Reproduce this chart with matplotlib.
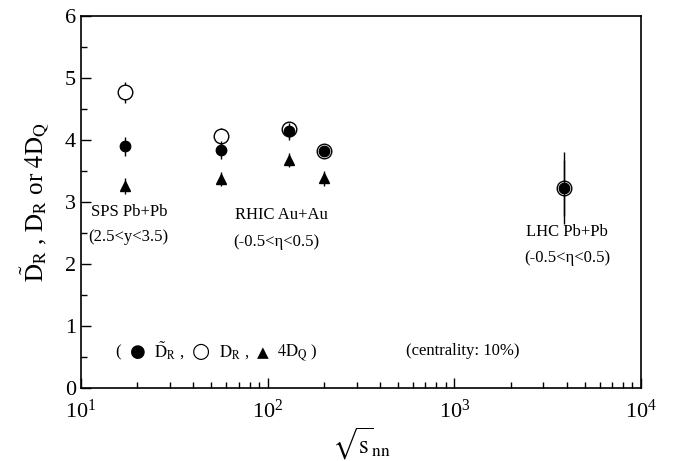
import numpy as np
import matplotlib
matplotlib.use("Agg")
import matplotlib.pyplot as plt
from matplotlib.ticker import MultipleLocator, LogLocator, NullFormatter
from matplotlib.offsetbox import TextArea, HPacker, AnchoredOffsetbox

plt.rcParams['font.family'] = ['Liberation Serif', 'DejaVu Sans']
plt.rcParams['mathtext.fontset'] = 'stix'

# collision energies (GeV)
energy = [17.3, 56, 130, 200, 3850]

# D_R tilde (filled circles)
dr_tilde = [3.90, 3.84, 4.14, 3.83, 3.22]
dr_tilde_err = [0.15, 0.15, 0.14, 0.07, 0.45]

# D_R (open circles)
dr = [4.77, 4.06, 4.17, 3.83, 3.22]
dr_err = [0.17, 0.14, 0.08, 0.06, 0.58]

# 4 D_Q (triangles), no LHC point
energy_q = [17.3, 56, 130, 200]
dq4 = [3.26, 3.37, 3.68, 3.38]
dq4_err = [0.13, 0.11, 0.11, 0.12]

fig = plt.figure(figsize=(6.77, 4.61), dpi=100)
ax = fig.add_axes([0.1196, 0.1583, 0.8272, 0.807])

ax.errorbar(energy, dr, yerr=dr_err, fmt='o', mfc='white', mec='black',
            ms=10.5, mew=1.0, ecolor='black', elinewidth=1.0, capsize=0, zorder=2)
ax.errorbar(energy, dr_tilde, yerr=dr_tilde_err, fmt='o', color='black',
            ms=7.5, elinewidth=1.0, capsize=0, zorder=3)
ax.errorbar(energy_q, dq4, yerr=dq4_err, fmt='^', color='black',
            ms=7.5, elinewidth=1.0, capsize=0, zorder=3)

ax.set_xscale('log')
ax.set_xlim(10, 1e4)
ax.set_ylim(0, 6)
ax.yaxis.set_major_locator(MultipleLocator(1))
ax.yaxis.set_minor_locator(MultipleLocator(0.5))
ax.xaxis.set_minor_locator(LogLocator(base=10, subs=np.arange(2, 10)))
ax.xaxis.set_minor_formatter(NullFormatter())

ax.tick_params(which='both', direction='in', top=False, right=False, labelsize=16)
ax.tick_params(which='major', length=7, width=1.0)
ax.tick_params(which='minor', length=4, width=1.0)
ax.tick_params(axis='x', which='major', pad=8)
for s in ax.spines.values():
    s.set_linewidth(1.2)

ax.set_xlabel(r'$\sqrt{\mathrm{s}}_{\mathrm{nn}}$', fontsize=18, labelpad=2)
ax.set_ylabel(r'$\mathrm{\tilde{D}_R}$ , $\mathrm{D_R}$ or $\mathrm{4D_Q}$',
              fontsize=18, labelpad=10)

fs = 12
ax.text(0.018, 0.463, 'SPS Pb+Pb', transform=ax.transAxes, fontsize=fs, ha='left')
ax.text(0.013, 0.395, '(2.5<y<3.5)', transform=ax.transAxes, fontsize=fs, ha='left')
ax.text(0.275, 0.453, 'RHIC Au+Au', transform=ax.transAxes, fontsize=fs, ha='left')
ax.text(0.272, 0.383, '(-0.5<η<0.5)', transform=ax.transAxes, fontsize=fs, ha='left')
ax.text(0.868, 0.408, 'LHC Pb+Pb', transform=ax.transAxes, fontsize=fs, ha='center')
ax.text(0.868, 0.338, '(-0.5<η<0.5)', transform=ax.transAxes, fontsize=fs, ha='center')
ax.text(0.58, 0.09, '(centrality: 10%)', transform=ax.transAxes, fontsize=fs, ha='left')

# inline symbol key
txt = dict(fontsize=fs)
parts = [
    TextArea('(', textprops=txt),
    TextArea('●', textprops=dict(fontsize=13, family='DejaVu Sans')),
    TextArea(r'$\mathrm{\tilde{D}_R}$ ,', textprops=txt),
    TextArea('○', textprops=dict(fontsize=15, family='DejaVu Sans')),
    TextArea(r'$\mathrm{D_R}$ ,', textprops=txt),
    TextArea('▲', textprops=dict(fontsize=11, family='DejaVu Sans')),
    TextArea(r'$\mathrm{4D_Q}$ )', textprops=txt),
]
box = HPacker(children=parts, align='baseline', pad=0, sep=6)
anc = AnchoredOffsetbox(loc='lower left', child=box, frameon=False,
                        bbox_to_anchor=(0.062, 0.065), bbox_transform=ax.transAxes,
                        borderpad=0, pad=0)
ax.add_artist(anc)

fig.savefig('out.png', dpi=100)
